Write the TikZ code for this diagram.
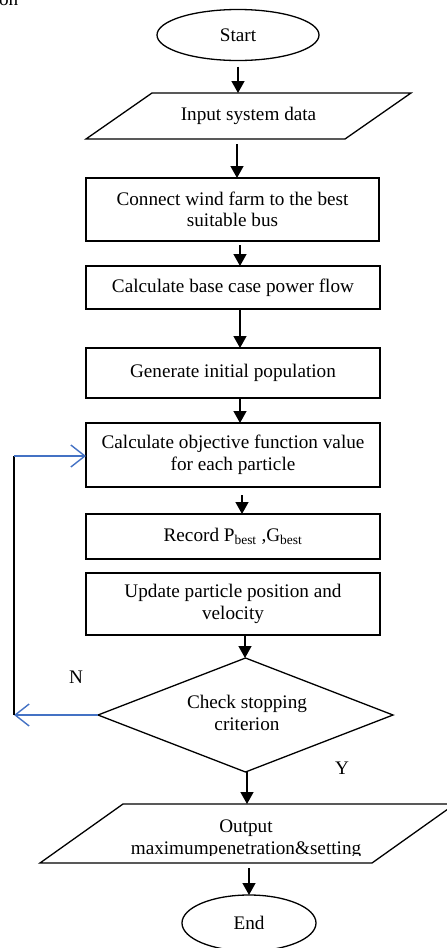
\documentclass[tikz,border=0pt]{standalone}
\usepackage{fontspec}
\setmainfont{Liberation Serif}
\usetikzlibrary{arrows.meta,shapes.geometric}
\definecolor{loopblue}{RGB}{68,114,196}
\begin{document}
\begin{tikzpicture}[x=1pt,y=-1pt,
  font=\fontsize{19.2}{21.5}\selectfont,
  every node/.style={inner sep=0pt, outer sep=0pt},
  lw/.style={line width=1.3pt},
  procbox/.style={draw, lw, minimum width=294pt, align=center},
  ellip/.style={draw, ellipse, lw},
  ghost/.style={align=center},
  arr/.style={line width=1.4pt, -{Triangle[length=12pt,width=13pt]}},
  barb/.style={draw=loopblue, line width=1.2pt, -{Straight Barb[length=14pt,width=22pt,line width=1.4pt]}},
]
\useasboundingbox (0,0) rectangle (447,948);

% cut-off fragment at top left
\node[anchor=base west] (frag) at (-1,5) {on};

\node[ellip, minimum width=162pt, minimum height=51pt] (start) at (238,35) {Start};

\node[ghost, minimum width=325pt, minimum height=46pt] (in) at (248.5,116) {Input system data};
\draw[lw] (in.south west) -- ([xshift=66pt]in.north west) -- (in.north east) -- ([xshift=-66pt]in.south east) -- cycle;

\node[procbox, minimum width=293pt, minimum height=63pt] (conn) at (232.5,209.5) {Connect wind farm to the best\\suitable bus};
\node[procbox, minimum height=43pt] (base) at (233,287.5) {Calculate base case power flow};
\node[procbox, minimum height=50pt] (gen) at (233,373) {Generate initial population};
\node[procbox, minimum height=64pt] (obj) at (233,455) {Calculate objective function value\\for each particle};
\node[procbox, minimum height=45pt] (rec) at (233,536.5) {Record P\textsubscript{best} ,G\textsubscript{best}};
\node[procbox, minimum height=62pt] (upd) at (233,604) {Update particle position and\\velocity};

\node[ghost, minimum width=295pt, minimum height=114pt] (dec) at (245.5,715) {};
\draw[lw] (dec.north) -- (dec.east) -- (dec.south) -- (dec.west) -- cycle;
\node[ghost] (dectext) at (247,713) {Check stopping\\criterion};

\node[ghost, minimum width=415pt, minimum height=59pt] (out) at (247.5,833.5) {};
\draw[lw] (out.south west) -- ([xshift=83pt]out.north west) -- (out.north east) -- ([xshift=-83pt]out.south east) -- cycle;
\begin{scope}
\clip (0,790) rectangle (447,855.5);
\node[ghost] (outtext) at (246,839) {Output\\maximumpenetration\&setting};
\end{scope}

\node[ellip, minimum width=134pt, minimum height=56pt] (end) at (249,923) {End};

\node (nlab) at (76,677) {N};
\node (ylab) at (342,768) {Y};

% connectors
\draw[arr, shorten <=6pt] (start.south) -- (start.south |- in.north);
\draw[arr, shorten <=5pt] ([xshift=-11.5pt]in.south) -- ([xshift=-11.5pt]in.south |- conn.north);
\draw[arr, shorten <=4pt] ([xshift=7.5pt]conn.south) -- ([xshift=7.5pt]conn.south |- base.north);
\draw[arr] ([xshift=7pt]base.south) -- ([xshift=7pt]base.south |- gen.north);
\draw[arr] ([xshift=7pt]gen.south) -- ([xshift=7pt]gen.south |- obj.north);
\draw[arr, shorten <=8pt] ([xshift=9pt]obj.south) -- ([xshift=9pt]obj.south |- rec.north);
\draw[arr] ([xshift=12pt]upd.south) -- ([xshift=12pt]upd.south |- dec.north);
\draw[arr] ([xshift=1.5pt]dec.south) -- ([xshift=1.5pt]dec.south |- out.north);
\draw[arr, shorten <=5pt] ([xshift=1.5pt]out.south) -- ([xshift=1.5pt]out.south |- end.north);

% loop back
\coordinate (lbot) at (14,715);
\coordinate (ltop) at (14,456);
\draw[barb] (dec.west) -- (lbot);
\draw[line width=1.3pt] (lbot) -- (ltop);
\draw[barb] (ltop) -- (ltop -| obj.west);
\end{tikzpicture}
\end{document}
